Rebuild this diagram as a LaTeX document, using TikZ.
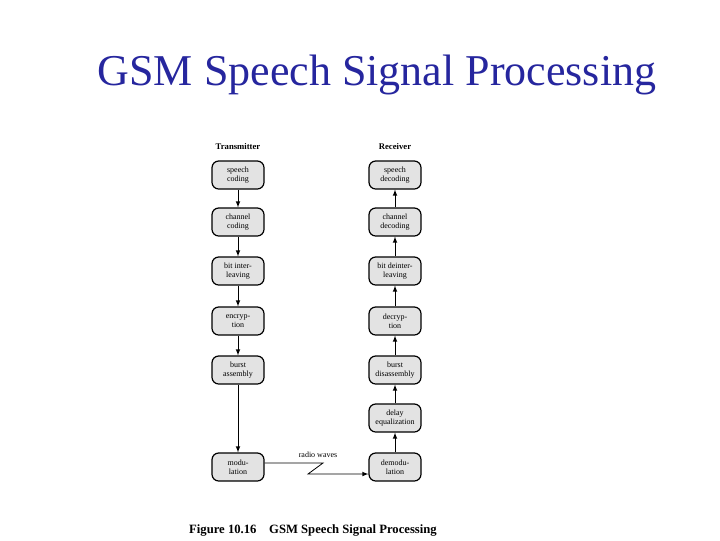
\documentclass[tikz,border=0pt]{standalone}
\usepackage{fontspec}
\setmainfont{Liberation Serif}
\begin{document}
\begin{tikzpicture}[x=0.75pt,y=-0.75pt,
  blk/.style={draw,line width=0.9pt,fill=gray!22,rounded corners=5pt,minimum width=39pt,minimum height=21pt,inner sep=0pt,align=center,font=\fontsize{6}{6.5}\selectfont},
  arr/.style={-latex,line width=0.6pt},
  hdr/.style={font=\fontsize{6.5}{7}\selectfont\bfseries}]
\useasboundingbox (0,0) rectangle (720,540);
\node[font=\fontsize{33}{35}\selectfont,text=blue!55!black!85] (title) at (377,75) {GSM Speech Signal Processing};
\node[hdr] (tx) at (238,147) {Transmitter};
\node[hdr] (rx) at (395,147) {Receiver};
\node[blk] (a1) at (238,175) {speech\\coding};
\node[blk] (a2) at (238,222) {channel\\coding};
\node[blk] (a3) at (238,271) {bit inter-\\leaving};
\node[blk] (a4) at (238,321) {encryp-\\tion};
\node[blk] (a5) at (238,370) {burst\\assembly};
\node[blk] (a6) at (238,467) {modu-\\lation};
\node[blk] (b1) at (395,175) {speech\\decoding};
\node[blk] (b2) at (395,222) {channel\\decoding};
\node[blk] (b3) at (395,271) {bit deinter-\\leaving};
\node[blk] (b4) at (395,321) {decryp-\\tion};
\node[blk] (b5) at (395,370) {burst\\disassembly};
\node[blk] (b6) at (395,418) {delay\\equalization};
\node[blk] (b7) at (395,467) {demodu-\\lation};
\foreach \u/\v in {a1/a2,a2/a3,a3/a4,a4/a5,a5/a6,b7/b6,b6/b5,b5/b4,b4/b3,b3/b2,b2/b1}
  \draw[arr] (\u) -- (\v);
\coordinate (z1) at (323,463);
\coordinate (z2) at (308,474);
\draw[arr] (a6.east |- z1) -- (z1) -- (z2) -- (b7.west |- z2);
\node[font=\fontsize{6}{6.5}\selectfont] (rw) at (318,455) {radio waves};
\node[font=\fontsize{9.5}{10}\selectfont\bfseries] (cap) at (313,530) {Figure 10.16\quad GSM Speech Signal Processing};
\end{tikzpicture}
\end{document}
